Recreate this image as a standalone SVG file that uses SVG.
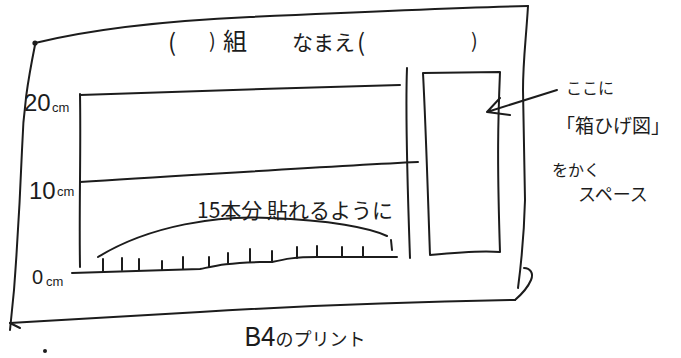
<svg xmlns="http://www.w3.org/2000/svg" width="681" height="358" viewBox="0 0 681 358">
<style>
.ln{fill:none;stroke:#1c1c1c;stroke-width:2;stroke-linecap:round;stroke-linejoin:round}
.t{font-family:"Noto Sans CJK JP","Noto Sans",sans-serif;fill:#1c1c1c}
.n{font-family:"Liberation Sans","DejaVu Sans",sans-serif;fill:#1c1c1c}
</style>
<rect width="681" height="358" fill="#ffffff"/>
<g id="frame">
<path class="ln" d="M35,43 C80,32 140,22 250,17 S450,8 528,6"/>
<path class="ln" d="M528,6 C526,40 523,60 523,90 L525,200 C524,240 521,265 518,288"/>
<path class="ln" d="M524,268 C530,268 534,273 531,280 C528,287 522,294 515,300"/>
<path class="ln" d="M515,300 C400,302 300,306 200,312 S60,320 10,323"/>
<path class="ln" d="M35,45 C28,80 23,110 22,150 C20,200 17,250 14,290 L10,330"/>
<path class="ln" d="M10,323 L20,328"/>
<circle cx="35" cy="43" r="2.6" fill="#1c1c1c"/>
<circle cx="45" cy="351" r="2" fill="#1c1c1c"/>
</g>
<g id="title">
<text class="t" x="168" y="51" font-size="24">(</text>
<text class="t" x="209" y="48" font-size="20">)</text>
<text class="t" x="223" y="50" font-size="24">組</text>
<text class="t" x="292" y="50" font-size="21">なまえ</text>
<text class="t" x="357" y="51" font-size="24">(</text>
<text class="t" x="471" y="48" font-size="20">)</text>
</g>
<g id="chart">
<path class="ln" d="M80,95 C150,92 300,88 400,85"/>
<path class="ln" d="M80,94 C81,150 79,210 80,267"/>
<path class="ln" d="M80,182 C200,175 330,166 418,162"/>
<path class="ln" d="M407,68 C405,120 408,200 410,258"/>
<path class="ln" d="M72,273 L200,269 C215,266 225,263 260,262 L272,262 C285,259 295,257 317,257 L397,257"/>
<path class="ln" d="M103,259 L103,271 M122,258 L122,270 M139,259 L139,270 M162,261 L162,270 M183,257 L183,269 M209,257 L209,267 M228,253 L228,263 M250,249 L250,262 M272,251 L272,262 M297,247 L297,258 M317,246 L317,257 M342,247 L342,257 M363,247 L363,257 M391,240 L392,250"/>
<path class="ln" d="M98,257 C150,225 220,215 270,218 C330,220 370,228 387,236"/>
</g>
<g id="labels">
<text class="n" x="24" y="111" font-size="24">20</text>
<text class="n" x="52" y="112" font-size="13">cm</text>
<text class="n" x="29" y="199" font-size="24">10</text>
<text class="n" x="57" y="196" font-size="13">cm</text>
<text class="n" x="32" y="284" font-size="20">0</text>
<text class="n" x="46" y="286" font-size="13">cm</text>
<text class="t" x="197" y="218" font-size="21">15本分 貼れるように</text>
</g>
<g id="space">
<path class="ln" d="M423,73 L500,72 C498,120 497,160 500,252 C480,250 450,253 430,255 C428,200 426,130 423,73 Z"/>
<path class="ln" d="M557,90 L487,112 M500,98 L487,112 L510,115"/>
<text class="t" x="566" y="94" font-size="16">ここに</text>
<text class="t" x="556" y="133" font-size="19">「箱ひげ図」</text>
<text class="t" x="552" y="176" font-size="16">をかく</text>
<text class="t" x="578" y="201" font-size="18">スペース</text>
</g>
<g id="caption">
<text class="t" x="244" y="346" font-size="26">B4<tspan font-size="18">のプリント</tspan></text>
</g>
</svg>
